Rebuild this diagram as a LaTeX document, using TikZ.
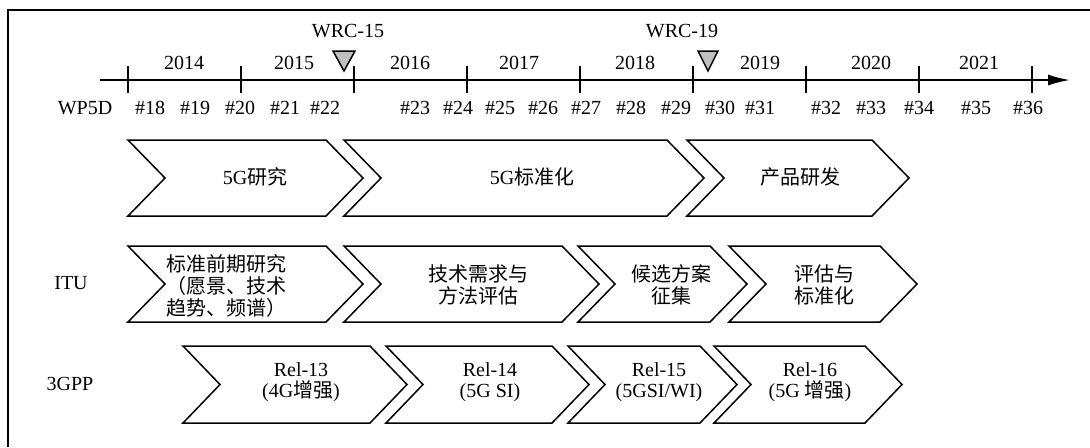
\documentclass[tikz,border=0pt]{standalone}
\usepackage{fontspec}
\setmainfont{Liberation Serif}
\newfontfamily\cjk{Noto Sans CJK SC}
\usetikzlibrary{arrows.meta}

\tikzset{
	lbl/.style={font=\fontsize{10}{10.8}\selectfont, inner sep=0pt, align=center},
	chevbox/.style={draw=black, line width=0.75pt, fill=white, line join=miter},
	wrcmark/.style={draw=black, fill=black!25, line width=0.75pt, line join=miter},
}
% chevron: body left, body right, top, bottom
\newcommand{\chevron}[4]{%
	\draw[chevbox] (#1,#3) -- (#2,#3) -- (#2+37,{(#3+#4)/2}) -- (#2,#4) -- (#1,#4) -- (#1+37,{(#3+#4)/2}) -- cycle;
}

\begin{document}
\begin{tikzpicture}[x=0.5pt, y=-0.5pt]
		\useasboundingbox (0,0) rectangle (1090,447);
		\draw[line width=1pt] (8,447) -- (8,10) -- (1090,10);

		% time axis
		\coordinate (axstart) at (100,80);
		\coordinate (axend) at (1070,80);
		\draw[line width=1pt, -{Latex[length=11pt,width=5.5pt]}] (axstart) -- (axend);
		\foreach \k in {0,1,2,3,4,5,6,7,8}{
			\draw[line width=0.75pt] (128+113*\k,66) -- +(0,27);
		}
		\foreach \x/\yr in {184/2014,294/2015,410/2016,519/2017,635/2018,760/2019,871/2020,979/2021}{
			\node[lbl] (yr\yr) at (\x,63) {\yr};
		}
		\node[lbl] (wp5d) at (85,108) {WP5D};
		\foreach \x/\m in {150/18,195/19,240/20,285/21,325/22,415/23,458/24,500/25,543/26,586/27,631/28,676/29,720/30,760/31,826/32,871/33,919/34,976/35,1028/36}{
			\node[lbl] (mt\m) at (\x,108) {\#\m};
		}

		% WRC marks
		\draw[wrcmark] (333,51) -- (355,51) -- (344,71) -- cycle;
		\draw[wrcmark] (698,51) -- (718,51) -- (708,71) -- cycle;
		\node[lbl] (wrc15) at (348,31) {WRC-15};
		\node[lbl] (wrc19) at (682,31) {WRC-19};

		% rows
		\node[lbl] (itu) at (71,283) {ITU};
		\node[lbl] (tgpp) at (70,384) {3GPP};
		\foreach \l/\r in {128/326,344/667,687/872}{
			\chevron{\l}{\r}{140}{216}
		}
		\foreach \l/\r in {128/326,344/562,578/710,729/880}{
			\chevron{\l}{\r}{246}{322}
		}
		\foreach \l/\r in {183/370,386/552,568/700,714/865}{
			\chevron{\l}{\r}{346}{423}
		}

		\node[lbl] (ra) at (255,177) {5G{\cjk 研究}};
		\node[lbl] (rb) at (532,177) {5G{\cjk 标准化}};
		\node[lbl] (rc) at (800,177) {\cjk 产品研发};

		\node[lbl] (ia) at (226,286) {\cjk 标准前期研究\\\cjk （愿景、技术\\\cjk 趋势、频谱）};
		\node[lbl] (ib) at (478,285) {\cjk 技术需求与\\\cjk 方法评估};
		\node[lbl] (ic) at (671,285) {\cjk 候选方案\\\cjk 征集};
		\node[lbl] (id) at (824,285) {\cjk 评估与\\\cjk 标准化};

		\node[lbl] (ga) at (301,382) {Rel-13\\(4G{\cjk 增强})};
		\node[lbl] (gb) at (490,382) {Rel-14\\(5G SI)};
		\node[lbl] (gc) at (659,382) {Rel-15\\(5GSI/WI)};
		\node[lbl] (gd) at (810,382) {Rel-16\\(5G {\cjk 增强})};
%		\node at (545,440) {Text};
\end{tikzpicture}
\end{document}
